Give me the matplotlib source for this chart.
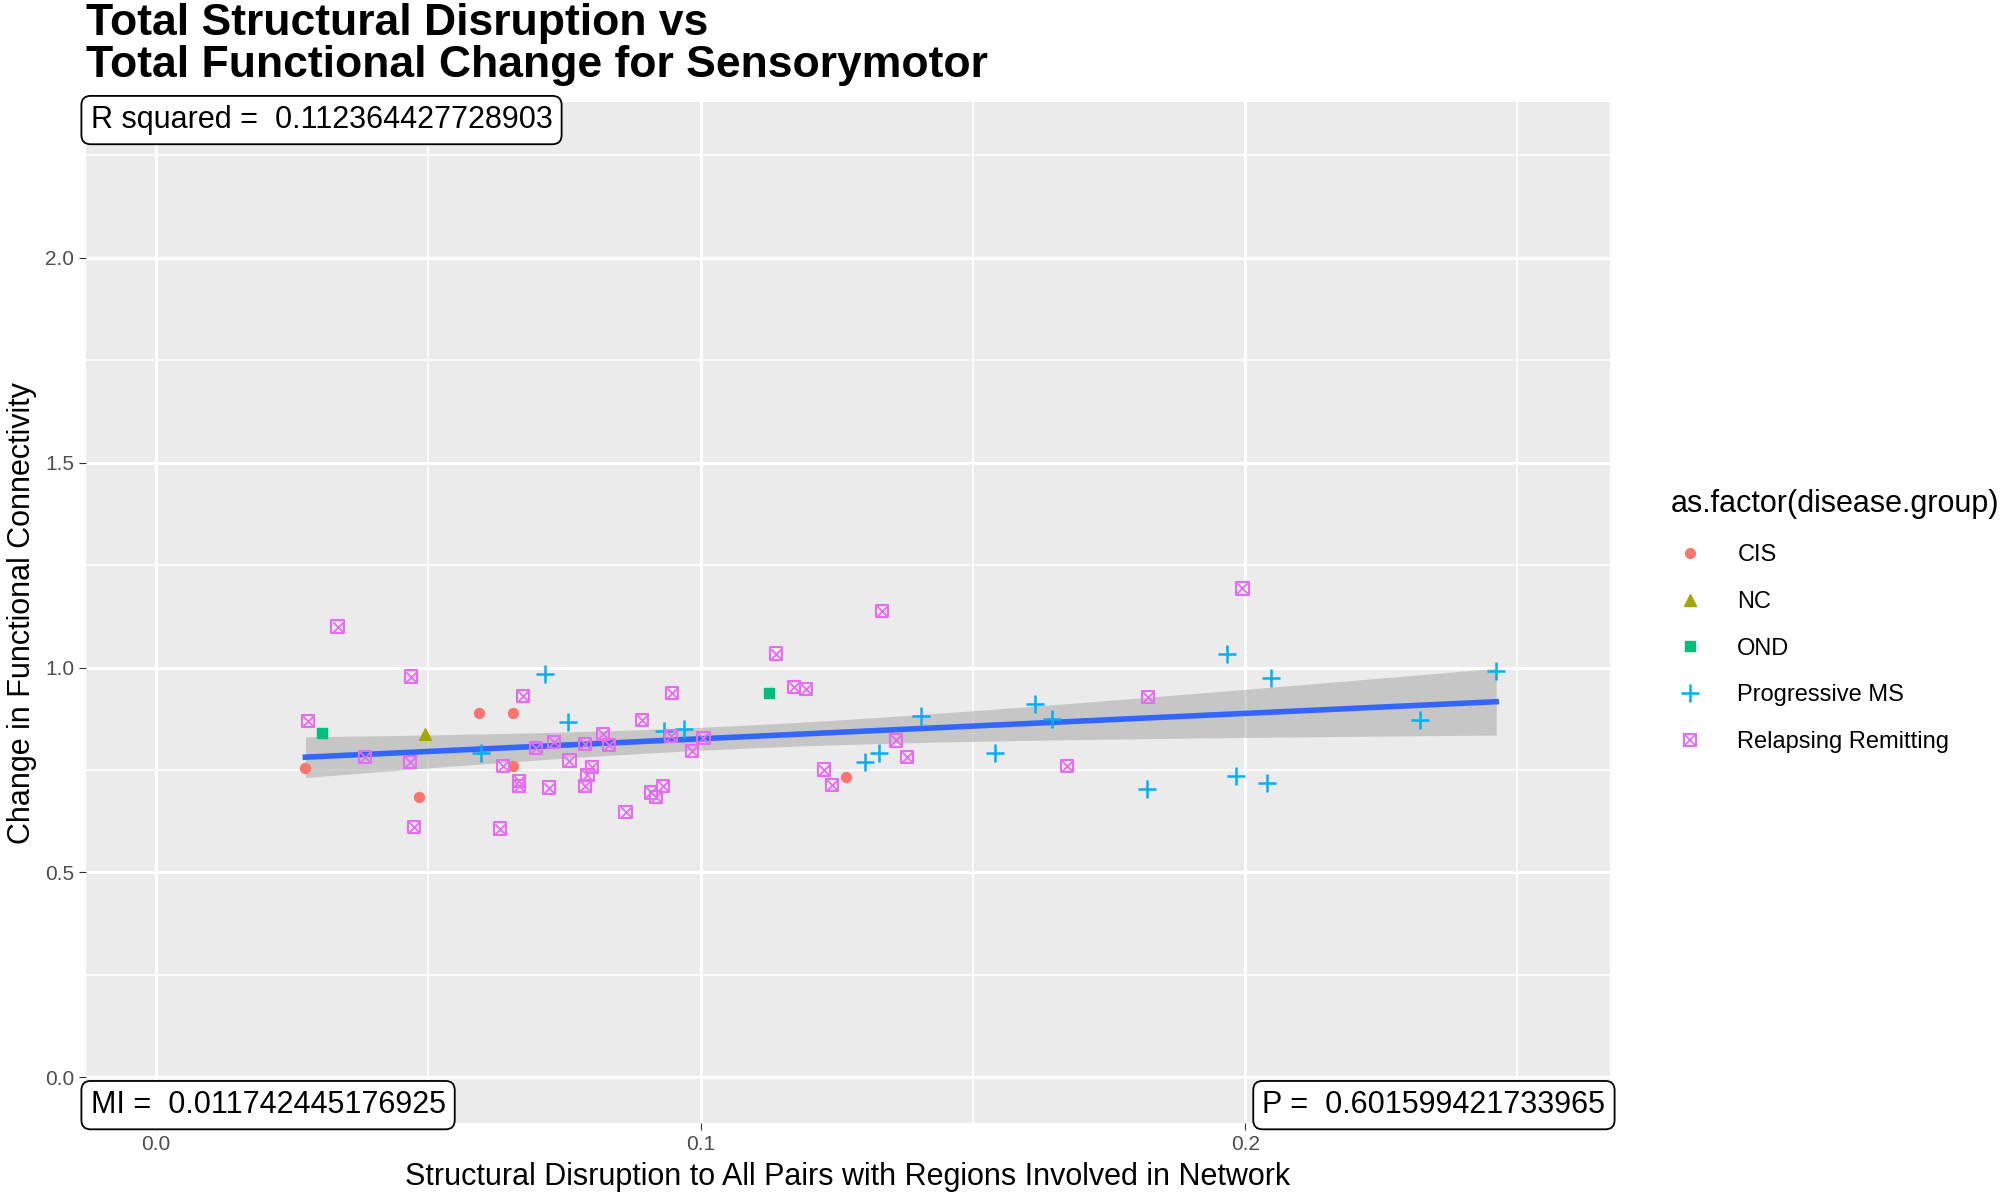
import numpy as np
import matplotlib.pyplot as plt
from matplotlib.lines import Line2D
from matplotlib.legend_handler import HandlerTuple

plt.rcParams['font.family'] = ['Liberation Sans', 'DejaVu Sans']

cis_x = [0.0274, 0.0482, 0.0592, 0.0656, 0.0656, 0.1267]
cis_y = [0.754, 0.685, 0.888, 0.888, 0.760, 0.732]
nc_x = [0.0494]
nc_y = [0.838]
ond_x = [0.0304, 0.1126]
ond_y = [0.841, 0.938]
pms_x = [0.0714, 0.0597, 0.0756, 0.0932, 0.0970, 0.1302, 0.1328, 0.1405, 0.1541,
         0.1614, 0.1646, 0.1820, 0.1967, 0.1984, 0.2040, 0.2047, 0.2321, 0.2461]
pms_y = [0.984, 0.791, 0.866, 0.844, 0.850, 0.769, 0.791, 0.882, 0.791,
         0.910, 0.875, 0.704, 1.034, 0.735, 0.717, 0.975, 0.872, 0.991]
rr_x = [0.0279, 0.0333, 0.0384, 0.0468, 0.0466, 0.0473, 0.0632, 0.0637, 0.0667, 0.0667,
        0.0674, 0.0698, 0.0721, 0.0731, 0.0759, 0.0787, 0.0787, 0.0792, 0.0801, 0.0820,
        0.0831, 0.0862, 0.0892, 0.0909, 0.0918, 0.0930, 0.0948, 0.0946, 0.0984, 0.1005,
        0.1138, 0.1171, 0.1194, 0.1227, 0.1241, 0.1333, 0.1358, 0.1379, 0.1672, 0.1822, 0.1995]
rr_y = [0.869, 1.100, 0.782, 0.978, 0.769, 0.611, 0.607, 0.760, 0.723, 0.710,
        0.931, 0.804, 0.707, 0.819, 0.773, 0.813, 0.710, 0.738, 0.757, 0.838,
        0.810, 0.648, 0.872, 0.695, 0.685, 0.710, 0.938, 0.832, 0.797, 0.829,
        1.034, 0.953, 0.947, 0.751, 0.713, 1.137, 0.822, 0.782, 0.760, 0.928, 1.193]

r_text = 'R squared =  0.112364427728903'
mi_text = 'MI =  0.011742445176925'
p_text = 'P =  0.601599421733965'

fig = plt.figure(figsize=(20, 12), dpi=100)
ax = fig.add_axes([0.043, 0.064, 0.762, 0.851])
ax.set_facecolor('#EBEBEB')
for s in ax.spines.values():
    s.set_visible(False)

ax.set_xlim(-0.0129, 0.267)
ax.set_ylim(-0.112, 2.38)
ax.set_xticks([0.0, 0.1, 0.2])
ax.set_xticklabels(['0.0', '0.1', '0.2'])
ax.set_yticks([0.0, 0.5, 1.0, 1.5, 2.0])
ax.set_yticklabels(['0.0', '0.5', '1.0', '1.5', '2.0'])
ax.set_xticks([0.05, 0.15, 0.25], minor=True)
ax.set_yticks([0.25, 0.75, 1.25, 1.75, 2.25], minor=True)
ax.grid(True, which='major', color='white', linewidth=2.2)
ax.grid(True, which='minor', color='white', linewidth=1.1)
ax.set_axisbelow(True)
ax.tick_params(which='major', length=5, color='#333333', labelcolor='#4D4D4D', labelsize=15)
ax.tick_params(which='minor', length=0)

# regression with 95% band
all_x = np.array(cis_x + nc_x + ond_x + pms_x + rr_x)
all_y = np.array(cis_y + nc_y + ond_y + pms_y + rr_y)
n = len(all_x)
b, a = np.polyfit(all_x, all_y, 1)
res = all_y - (a + b * all_x)
se = np.sqrt(np.sum(res ** 2) / (n - 2))
xs = np.linspace(all_x.min(), all_x.max(), 100)
sxx = np.sum((all_x - all_x.mean()) ** 2)
band = 1.99 * se * np.sqrt(1 / n + (xs - all_x.mean()) ** 2 / sxx)
ys = a + b * xs
ax.fill_between(xs, ys - band, ys + band, color='#999999', alpha=0.45, linewidth=0)
ax.plot(xs, ys, color='#3366FF', linewidth=4)

ms = 8
ax.scatter(cis_x, cis_y, marker='o', s=ms ** 2 * 0.8, color='#F8766D', zorder=3)
ax.scatter(nc_x, nc_y, marker='^', s=ms ** 2 * 1.1, color='#A3A500', zorder=3)
ax.scatter(ond_x, ond_y, marker='s', s=ms ** 2 * 0.8, color='#00BF7D', zorder=3)
ax.scatter(pms_x, pms_y, marker='+', s=ms ** 2 * 2.4, color='#00B0F6', linewidths=1.8, zorder=3)
ax.scatter(rr_x, rr_y, marker='s', s=ms ** 2 * 1.2, facecolors='none', edgecolors='#E76BF3', linewidths=1.5, zorder=3)
ax.scatter(rr_x, rr_y, marker='x', s=ms ** 2 * 0.9, color='#E76BF3', linewidths=1.3, zorder=3)

ax.set_xlabel('Structural Disruption to All Pairs with Regions Involved in Network', fontsize=22, labelpad=6)
ax.set_ylabel('Change in Functional Connectivity', fontsize=22, labelpad=6)

box = dict(boxstyle='round,pad=0.3,rounding_size=0.3', facecolor='white', edgecolor='black', linewidth=1.3)
ax.text(0.003, 0.997, r_text, transform=ax.transAxes, ha='left', va='top', fontsize=22, bbox=box)
ax.text(0.003, 0.003, mi_text, transform=ax.transAxes, ha='left', va='bottom', fontsize=22, bbox=box)
ax.text(0.997, 0.003, p_text, transform=ax.transAxes, ha='right', va='bottom', fontsize=22, bbox=box)

fig.text(0.043, 0.928, 'Total Structural Disruption vs\nTotal Functional Change for Sensorymotor',
         fontsize=32, fontweight='bold', ha='left', va='bottom', linespacing=1.05)

h_cis = Line2D([], [], marker='o', linestyle='none', color='#F8766D', markersize=7)
h_nc = Line2D([], [], marker='^', linestyle='none', color='#A3A500', markersize=8)
h_ond = Line2D([], [], marker='s', linestyle='none', color='#00BF7D', markersize=7)
h_pms = Line2D([], [], marker='+', linestyle='none', color='#00B0F6', markersize=13, markeredgewidth=1.8)
h_rr1 = Line2D([], [], marker='s', linestyle='none', markerfacecolor='none', markeredgecolor='#E76BF3', markersize=9, markeredgewidth=1.5)
h_rr2 = Line2D([], [], marker='x', linestyle='none', color='#E76BF3', markersize=7, markeredgewidth=1.3)
leg = fig.legend([h_cis, h_nc, h_ond, h_pms, (h_rr1, h_rr2)],
                 ['CIS', 'NC', 'OND', 'Progressive MS', 'Relapsing Remitting'],
                 handler_map={tuple: HandlerTuple(ndivide=1)},
                 title='as.factor(disease.group)', loc='upper left', bbox_to_anchor=(0.825, 0.61),
                 frameon=False, fontsize=17, title_fontsize=22, labelspacing=1.05,
                 handlelength=1.6, handletextpad=1.2)
leg._legend_box.align = 'left'

fig.savefig('out.png', dpi=100)
